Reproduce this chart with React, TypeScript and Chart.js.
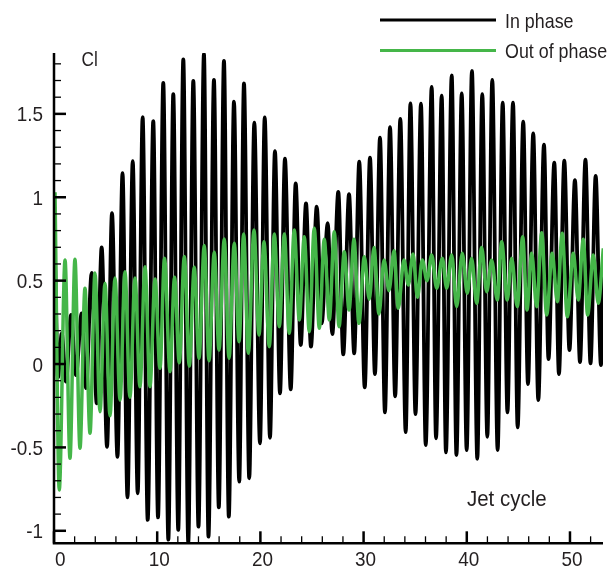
import React, { useEffect, useRef } from "react";
import { Chart, registerables } from "chart.js";

Chart.register(...registerables);

// Jet cycle of each extremum (peak / trough)
const inPhaseCycle = [
  0.1, 0.39, 0.75, 1.16, 1.65, 2.13, 2.68, 3.1, 3.65, 4.14, 4.62, 5.14, 5.62, 6.15, 6.64, 7.12,
  7.63, 8.11, 8.59, 9.08, 9.62, 10.08, 10.59, 11.08, 11.56, 12.04, 12.53, 13.01, 13.5, 14.0,
  14.53, 14.97, 15.5, 15.97, 16.47, 16.94, 17.44, 17.95, 18.41, 18.92, 19.41, 19.96, 20.42,
  20.93, 21.41, 21.9, 22.38, 22.94, 23.42, 23.91, 24.42, 24.9, 25.46, 25.94, 26.52, 26.97,
  27.55, 28.03, 28.59, 29.09, 29.58, 30.11, 30.62, 31.1, 31.59, 32.07, 32.56, 33.06, 33.56,
  34.08, 34.54, 35.03, 35.56, 36.02, 36.6, 37.02, 37.57, 37.98, 38.54, 39.0, 39.51, 39.99,
  40.5, 41.02, 41.5, 41.99, 42.47, 42.99, 43.48, 43.94, 44.48, 44.93, 45.47, 45.93, 46.44,
  46.93, 47.48, 47.92, 48.48, 48.93, 49.45, 49.95, 50.48, 50.97, 51.5, 51.99, 52.49, 53.0, 53.2,
];
const inPhaseCl = [
  0.64, -0.08, 0.184, -0.106, 0.294, -0.066, 0.304, -0.144, 0.546, -0.236, 0.7, -0.496, 0.905,
  -0.556, 1.145, -0.8, 1.217, -0.775, 1.48, -0.935, 1.457, -0.92, 1.686, -1.053, 1.618, -0.995,
  1.827, -1.07, 1.698, -0.975, 1.859, -1.035, 1.703, -0.86, 1.818, -0.915, 1.573, -0.705, 1.683,
  -0.685, 1.447, -0.475, 1.479, -0.442, 1.277, -0.176, 1.231, -0.152, 1.083, 0.114, 0.963, 0.104,
  0.943, 0.244, 0.844, 0.18, 1.032, 0.058, 1.018, 0.064, 1.213, -0.14, 1.238, -0.06, 1.357, -0.29,
  1.421, -0.194, 1.47, -0.408, 1.563, -0.3, 1.561, -0.486, 1.662, -0.445, 1.61, -0.53, 1.73,
  -0.546, 1.622, -0.516, 1.757, -0.568, 1.618, -0.436, 1.704, -0.516, 1.567, -0.29, 1.567, -0.38,
  1.453, -0.12, 1.383, -0.216, 1.315, 0.03, 1.207, -0.06, 1.219, 0.084, 1.103, 0.012, 1.225, 0.004,
  1.128, -0.006, 0.55,
];

const outPhaseCycle = [
  0.1, 0.51, 1.07, 1.55, 2.03, 2.52, 3.0, 3.49, 3.97, 4.46, 4.94, 5.43, 5.91, 6.4, 6.88, 7.36,
  7.85, 8.33, 8.82, 9.3, 9.79, 10.27, 10.71, 11.24, 11.68, 12.14, 12.63, 13.11, 13.59, 14.05,
  14.56, 15.02, 15.53, 15.99, 16.5, 16.96, 17.47, 17.93, 18.38, 18.83, 19.38, 19.86, 20.35,
  20.86, 21.35, 21.83, 22.32, 22.8, 23.28, 23.77, 24.25, 24.74, 25.22, 25.71, 26.19, 26.68,
  27.16, 27.62, 28.13, 28.59, 29.07, 29.55, 30.07, 30.55, 31.01, 31.49, 31.98, 32.46, 32.95,
  33.36, 33.91, 34.33, 34.79, 35.22, 35.69, 36.14, 36.6, 37.08, 37.63, 38.05, 38.54, 39.02,
  39.56, 40.05, 40.47, 40.96, 41.44, 41.93, 42.41, 42.96, 43.38, 43.92, 44.35, 44.89, 45.42,
  45.83, 46.29, 46.77, 47.26, 47.74, 48.28, 48.77, 49.25, 49.74, 50.32, 50.8, 51.29, 51.71,
  52.26, 52.74, 53.23,
];
const outPhaseCl = [
  1.03, -0.755, 0.624, -0.565, 0.628, -0.505, 0.454, -0.415, 0.546, -0.286, 0.485, -0.31, 0.516,
  -0.216, 0.553, -0.2, 0.516, -0.136, 0.583, -0.136, 0.51, -0.026, 0.634, -0.046, 0.52, 0.008,
  0.645, -0.012, 0.58, 0.034, 0.71, 0.02, 0.67, 0.084, 0.749, 0.034, 0.724, 0.134, 0.78, 0.064,
  0.803, 0.174, 0.733, 0.104, 0.779, 0.224, 0.779, 0.184, 0.803, 0.264, 0.763, 0.194, 0.814,
  0.214, 0.748, 0.264, 0.793, 0.224, 0.673, 0.324, 0.748, 0.244, 0.643, 0.388, 0.699, 0.3, 0.624,
  0.44, 0.679, 0.334, 0.624, 0.474, 0.659, 0.4, 0.624, 0.5, 0.654, 0.454, 0.634, 0.454, 0.654,
  0.344, 0.664, 0.424, 0.634, 0.364, 0.699, 0.434, 0.624, 0.384, 0.733, 0.384, 0.634, 0.344,
  0.763, 0.324, 0.664, 0.344, 0.787, 0.294, 0.664, 0.374, 0.784, 0.284, 0.664, 0.384, 0.748,
  0.294, 0.654, 0.364, 0.694,
];

const seriesLabels = ["In phase", "Out of phase"];
const xMajorTicks = [0, 10, 20, 30, 40, 50];
const xTickLabels = ["0", "10", "20", "30", "40", "50"];
const xMinorTicks = [2, 4, 6, 8, 12, 14, 16, 18, 22, 24, 26, 28, 32, 34, 36, 38, 42, 44, 46, 48, 52];
const yMajorTicks = [-1, -0.5, 0, 0.5, 1, 1.5];
const yTickLabels = ["-1", "-0.5", "0", "0.5", "1", "1.5"];
const yMinorTicks = [
  -0.9, -0.8, -0.7, -0.6, -0.4, -0.3, -0.2, -0.1, 0.1, 0.2, 0.3, 0.4, 0.6, 0.7, 0.8, 0.9, 1.1,
  1.2, 1.3, 1.4, 1.6, 1.7, 1.8,
];
const xAxisTitle = "Jet cycle";
const yAxisTitle = "Cl";

const FONT = "'Liberation Sans', Arial, Helvetica, sans-serif";
const TEXT = "#231f20";
const BLACK = "#000000";
const GREEN = "#45b649";

// condensed text: draw with a horizontal squeeze
function condensedText(
  ctx: CanvasRenderingContext2D,
  text: string,
  x: number,
  y: number,
  size: number,
  squeeze: number,
  align: CanvasTextAlign
) {
  ctx.save();
  ctx.font = `${size}px ${FONT}`;
  ctx.textAlign = align;
  ctx.textBaseline = "alphabetic";
  ctx.translate(x, y);
  ctx.scale(squeeze, 1);
  ctx.fillText(text, 0, 0);
  ctx.restore();
}

const tecplotAxes = {
  id: "tecplotAxes",
  afterDatasetsDraw(chart: any) {
    const { ctx, chartArea: a, scales } = chart;
    const x = scales.x;
    const y = scales.y;
    ctx.save();
    ctx.strokeStyle = "#000";
    ctx.lineCap = "butt";
    ctx.lineWidth = 2.5;
    ctx.beginPath();
    ctx.moveTo(a.left, a.top);
    ctx.lineTo(a.left, a.bottom);
    ctx.lineTo(a.right, a.bottom);
    ctx.stroke();
    ctx.lineWidth = 2.5;
    yMajorTicks.forEach((v) => {
      const py = y.getPixelForValue(v);
      ctx.beginPath();
      ctx.moveTo(a.left, py);
      ctx.lineTo(a.left + 12, py);
      ctx.stroke();
    });
    ctx.lineWidth = 1.3;
    yMinorTicks.forEach((v) => {
      const py = y.getPixelForValue(v);
      ctx.beginPath();
      ctx.moveTo(a.left, py);
      ctx.lineTo(a.left + 7, py);
      ctx.stroke();
    });
    ctx.lineWidth = 2.5;
    xMajorTicks.forEach((v) => {
      const px = x.getPixelForValue(v);
      ctx.beginPath();
      ctx.moveTo(px, a.bottom);
      ctx.lineTo(px, a.bottom - 12);
      ctx.stroke();
    });
    ctx.lineWidth = 1.3;
    xMinorTicks.forEach((v) => {
      const px = x.getPixelForValue(v);
      ctx.beginPath();
      ctx.moveTo(px, a.bottom);
      ctx.lineTo(px, a.bottom - 7);
      ctx.stroke();
    });
    ctx.fillStyle = TEXT;
    const tickSize = 21;
    const tickSqueeze = 0.9;
    yMajorTicks.forEach((v, i) => {
      const py = y.getPixelForValue(v);
      condensedText(ctx, yTickLabels[i], a.left - 11, py + 7.5, tickSize, tickSqueeze, "right");
    });
    ctx.font = `${tickSize}px ${FONT}`;
    xMajorTicks.forEach((v, i) => {
      const px = x.getPixelForValue(v);
      const w = ctx.measureText(xTickLabels[i]).width * tickSqueeze;
      let left = px + 2 - w / 2;
      if (left < a.left + 1) left = a.left + 1;
      condensedText(ctx, xTickLabels[i], left, a.bottom + 23, tickSize, tickSqueeze, "left");
    });
    condensedText(ctx, yAxisTitle, 81.5, 66, 21, 0.82, "left");
    condensedText(ctx, xAxisTitle, 467, 505.5, 22, 0.93, "left");
    chart.data.datasets.forEach((ds: any, i: number) => {
      const ly = 20 + i * 30.6;
      ctx.strokeStyle = ds.borderColor;
      ctx.lineWidth = 3;
      ctx.beginPath();
      ctx.moveTo(380, ly);
      ctx.lineTo(496, ly);
      ctx.stroke();
      ctx.fillStyle = TEXT;
      condensedText(ctx, ds.label, 505, ly + 7.6, 21, 0.85, "left");
    });
    ctx.restore();
  },
};

export default function App() {
  const ref = useRef<HTMLCanvasElement | null>(null);
  useEffect(() => {
    if (!ref.current) return;
    const chart = new Chart(ref.current, {
      type: "line",
      data: {
        datasets: [
          {
            label: seriesLabels[0],
            data: inPhaseCycle.map((c, i) => ({ x: c, y: inPhaseCl[i] })),
            borderColor: BLACK,
            borderWidth: 3.8,
            pointRadius: 0,
            cubicInterpolationMode: "monotone",
            order: 1,
          },
          {
            label: seriesLabels[1],
            data: outPhaseCycle.map((c, i) => ({ x: c, y: outPhaseCl[i] })),
            borderColor: GREEN,
            borderWidth: 3.5,
            pointRadius: 0,
            cubicInterpolationMode: "monotone",
            order: 0,
          },
        ],
      },
      options: {
        responsive: false,
        animation: false,
        devicePixelRatio: 1,
        layout: { padding: { left: 54, right: 5, top: 53, bottom: 26.7 } },
        plugins: { legend: { display: false }, tooltip: { enabled: false } },
        scales: {
          x: { type: "linear", min: 0, max: 53.2, display: false },
          y: { type: "linear", min: -1.075, max: 1.865, display: false },
        },
      },
      plugins: [tecplotAxes],
    });
    return () => chart.destroy();
  }, []);
  return (
    <div style={{ position: "absolute", left: 0, top: 0, width: 608, height: 570, background: "#fff" }}>
      <canvas ref={ref} width={608} height={570} />
    </div>
  );
}
